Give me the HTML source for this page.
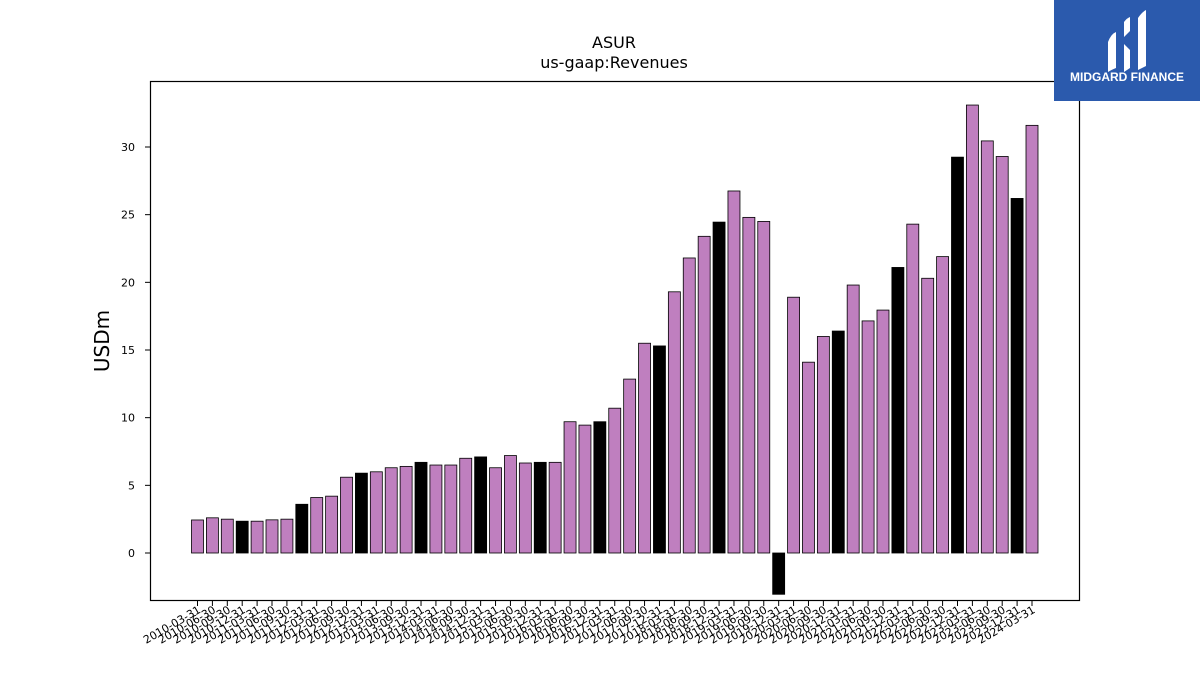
<!DOCTYPE html>
<html><head><meta charset="utf-8"><style>
body{margin:0;background:#fff;}
svg{display:block;font-family:"DejaVu Sans","Liberation Sans",sans-serif;}
</style></head><body>
<svg id="chart" width="1200" height="675">
  <text x="614" y="48" text-anchor="middle" font-size="16">ASUR</text>
  <text x="614" y="68" text-anchor="middle" font-size="16">us-gaap:Revenues</text>
  <text transform="translate(109,341) rotate(-90)" text-anchor="middle" font-size="20">USDm</text>
  <g id="bars"></g>
  <g id="yticks"></g>
  <g id="xticks"></g>
  <rect x="150.5" y="81.5" width="929" height="519" fill="none" stroke="#000" stroke-width="1.2"/>
  <g>
    <rect x="1054" y="0" width="146" height="101" fill="#2b5aad"/>
    <path d="M1108 42 q3-8 8-10 v36 q-5 2-8 4z M1124 22 q3-4 6-5 v14 l-6 6z M1124 44 l6 6 v18 q-3 2-6 4z M1138 18 q4-6 8-8 v56 q-4 2-8 4z" fill="#fff"/>
    <text x="1127" y="81" text-anchor="middle" font-size="12" font-weight="bold" fill="#fff" font-family="Liberation Sans, sans-serif">MIDGARD FINANCE</text>
  </g>
</svg>
<script>
const categories=["2010-03-31","2010-06-30","2010-09-30","2010-12-31","2011-03-31","2011-06-30","2011-09-30","2011-12-31","2012-03-31","2012-06-30","2012-09-30","2012-12-31","2013-03-31","2013-06-30","2013-09-30","2013-12-31","2014-03-31","2014-06-30","2014-09-30","2014-12-31","2015-03-31","2015-06-30","2015-09-30","2015-12-31","2016-03-31","2016-06-30","2016-09-30","2016-12-31","2017-03-31","2017-06-30","2017-09-30","2017-12-31","2018-03-31","2018-06-30","2018-09-30","2018-12-31","2019-03-31","2019-06-30","2019-09-30","2019-12-31","2020-03-31","2020-06-30","2020-09-30","2020-12-31","2021-03-31","2021-06-30","2021-09-30","2021-12-31","2022-03-31","2022-06-30","2022-09-30","2022-12-31","2023-03-31","2023-06-30","2023-09-30","2023-12-31","2024-03-31"];
const values=[2.44,2.6,2.5,2.35,2.35,2.45,2.5,3.6,4.1,4.2,5.6,5.9,6.0,6.3,6.4,6.7,6.5,6.5,7.0,7.1,6.3,7.2,6.65,6.7,6.7,9.7,9.45,9.7,10.7,12.85,15.5,15.3,19.3,21.8,23.4,24.45,26.75,24.8,24.5,-3.05,18.9,14.1,16.0,16.4,19.8,17.15,17.95,21.1,24.3,20.3,21.9,29.25,33.1,30.45,29.3,26.2,31.6];
const yTicks=[0,5,10,15,20,25,30];
const NS="http://www.w3.org/2000/svg";
const x0=197.5,x1=1032,y0=553,ppu=(553-147)/30;
const xs=i=>x0+i*(x1-x0)/(categories.length-1);
const ys=v=>y0-v*ppu;
const bars=document.getElementById('bars'),yt=document.getElementById('yticks'),xt=document.getElementById('xticks');
function mk(t,a){const e=document.createElementNS(NS,t);for(const k in a)e.setAttribute(k,a[k]);return e;}
values.forEach((v,i)=>{
  const bw=12,top=Math.min(ys(v),y0),h=Math.abs(ys(v)-y0);
  const r=mk('rect',{x:xs(i)-bw/2,y:top,width:bw,height:h,fill:categories[i].endsWith('12-31')?'#000':'#bf7fbf',stroke:'#000','stroke-width':0.8});
  
  
  bars.appendChild(r);
});
yTicks.forEach(t=>{
  const y=ys(t);
  const l=mk('line',{x1:145,x2:150,y1:y,y2:y,stroke:'#000'});
  
  
  yt.appendChild(l);
  const tx=mk('text',{x:135,y:y+4,'text-anchor':'end','font-size':11});
  
  
  tx.textContent=t;yt.appendChild(tx);
});
categories.forEach((c,i)=>{
  const x=xs(i);
  const l=mk('line',{x1:x,x2:x,y1:601,y2:606,stroke:'#000'});
  
  
  xt.appendChild(l);
  const tx=mk('text',{transform:`translate(${x+4},${612}) rotate(-30)`,'text-anchor':'end','font-size':11});
  
  
  tx.textContent=c;xt.appendChild(tx);
});
</script>
</body></html>
